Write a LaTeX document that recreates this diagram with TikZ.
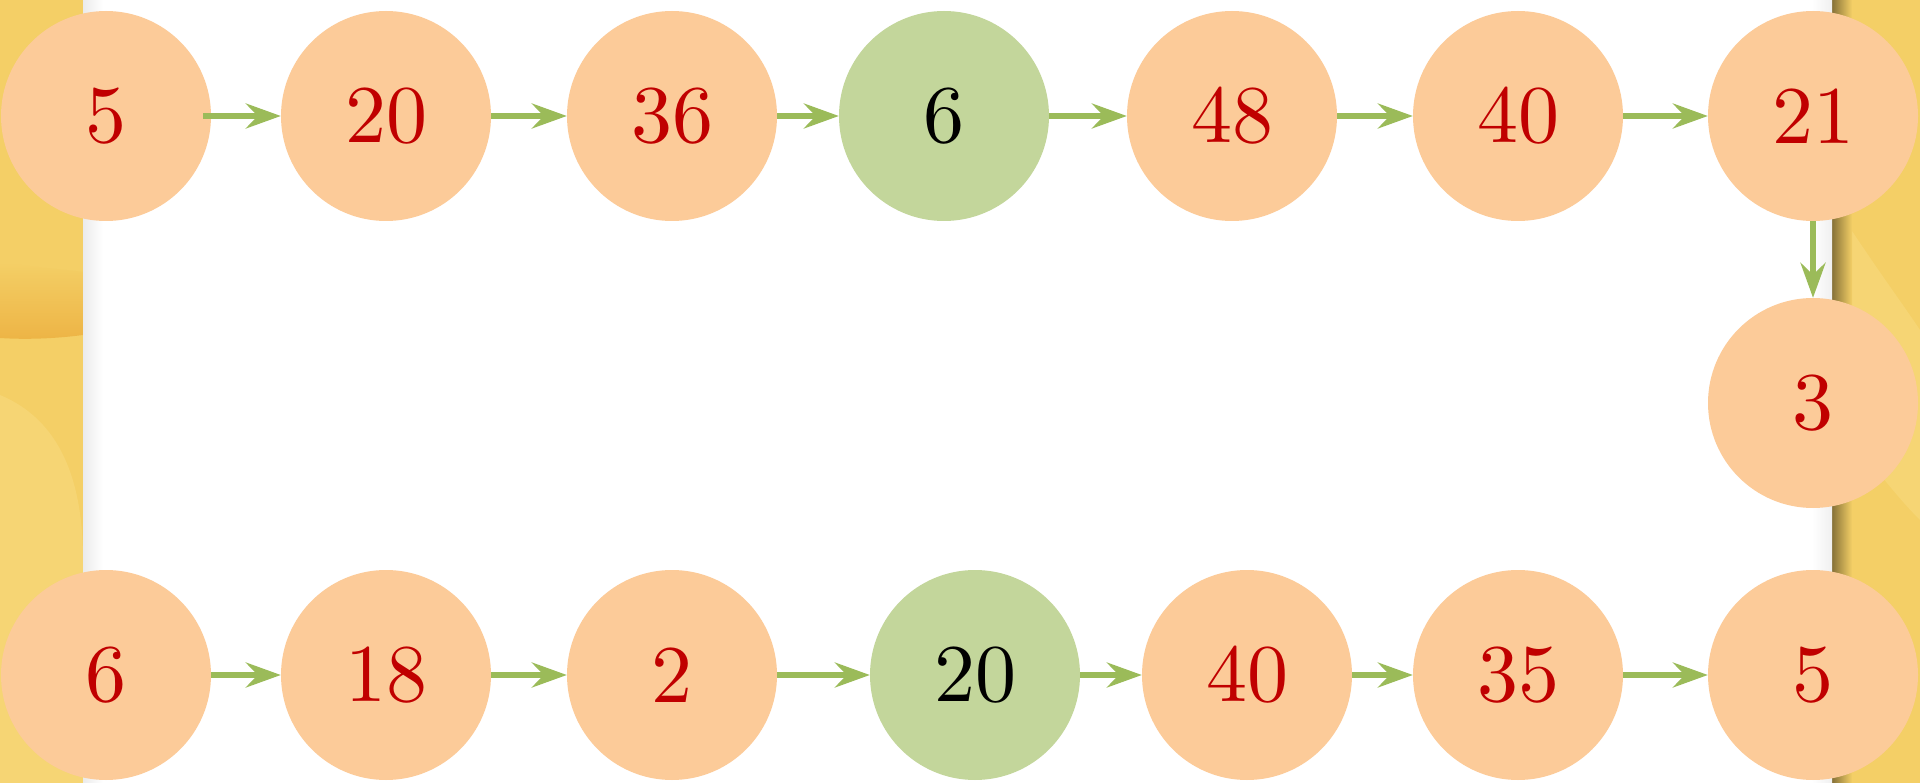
\documentclass[tikz,border=0pt]{standalone}
\usetikzlibrary{arrows.meta}
\definecolor{nodeorange}{HTML}{FCCB99}
\definecolor{nodegreen}{HTML}{C3D69B}
\definecolor{arrowgreen}{HTML}{9BBB59}
\definecolor{numred}{HTML}{C00000}
\definecolor{strip}{HTML}{F4CF66}
\definecolor{stripdark}{HTML}{EDB445}
\definecolor{striplight}{HTML}{F8DC82}
\font\numfont="[lmroman10-regular]" at 82pt
\tikzset{
  x=1pt, y=-1pt,
  numnode/.style={circle, fill=nodeorange, draw=none, minimum size=210pt, inner sep=0pt,
    text=numred, font=\numfont},
  hinode/.style={numnode, fill=nodegreen, text=black},
  link/.style={draw=arrowgreen, line width=5.5pt,
    -{Stealth[length=35pt, width=25pt, inset=12pt]}}
}
\begin{document}
\begin{tikzpicture}
\useasboundingbox (0,0) rectangle (1920,783);
% background strips
\fill[strip] (0,0) rectangle (83,783);
\shade[top color=strip, bottom color=stripdark] (0,262) .. controls (40,268) and (70,270) .. (83,272) -- (83,335) .. controls (60,338) and (30,340) .. (0,338) -- cycle;
\fill[striplight, opacity=0.5] (0,395) .. controls (60,420) and (83,480) .. (83,560) -- (83,783) -- (0,783) -- cycle;
\fill[strip] (1832,0) rectangle (1920,783);
\fill[striplight, opacity=0.5] (1832,200) .. controls (1870,260) and (1900,300) .. (1920,330) -- (1920,520) .. controls (1880,480) and (1850,430) .. (1832,420) -- cycle;
\shade[left color=black!45!strip, right color=strip] (1832,0) rectangle (1852,783);
% white panel
\fill[white] (83,0) rectangle (1832,783);
\shade[left color=black!8, right color=white] (83,0) rectangle (103,783);
\shade[left color=white, right color=black!6] (1812,0) rectangle (1832,783);
% nodes: top row
\node[numnode] (t1) at (106,116) {5};
\node[numnode] (t2) at (386,116) {20};
\node[numnode] (t3) at (672,116) {36};
\node[hinode]  (t4) at (944,116) {6};
\node[numnode] (t5) at (1232,116) {48};
\node[numnode] (t6) at (1518,116) {40};
\node[numnode] (t7) at (1813,116) {21};
% middle
\node[numnode] (m1) at (1813,403) {3};
% bottom row
\node[numnode] (b1) at (106,675) {6};
\node[numnode] (b2) at (386,675) {18};
\node[numnode] (b3) at (672,675) {2};
\node[hinode]  (b4) at (975,675) {20};
\node[numnode] (b5) at (1247,675) {40};
\node[numnode] (b6) at (1518,675) {35};
\node[numnode] (b7) at (1813,675) {5};
% connectors
\draw[link, shorten <=-8pt] (t1) -- (t2);
\draw[link] (t2) -- (t3);
\draw[link] (t3) -- (t4);
\draw[link] (t4) -- (t5);
\draw[link] (t5) -- (t6);
\draw[link] (t6) -- (t7);
\draw[link] (t7) -- (m1);
\draw[link] (b1) -- (b2);
\draw[link] (b2) -- (b3);
\draw[link] (b3) -- (b4);
\draw[link] (b4) -- (b5);
\draw[link] (b5) -- (b6);
\draw[link] (b6) -- (b7);
\end{tikzpicture}
\end{document}
